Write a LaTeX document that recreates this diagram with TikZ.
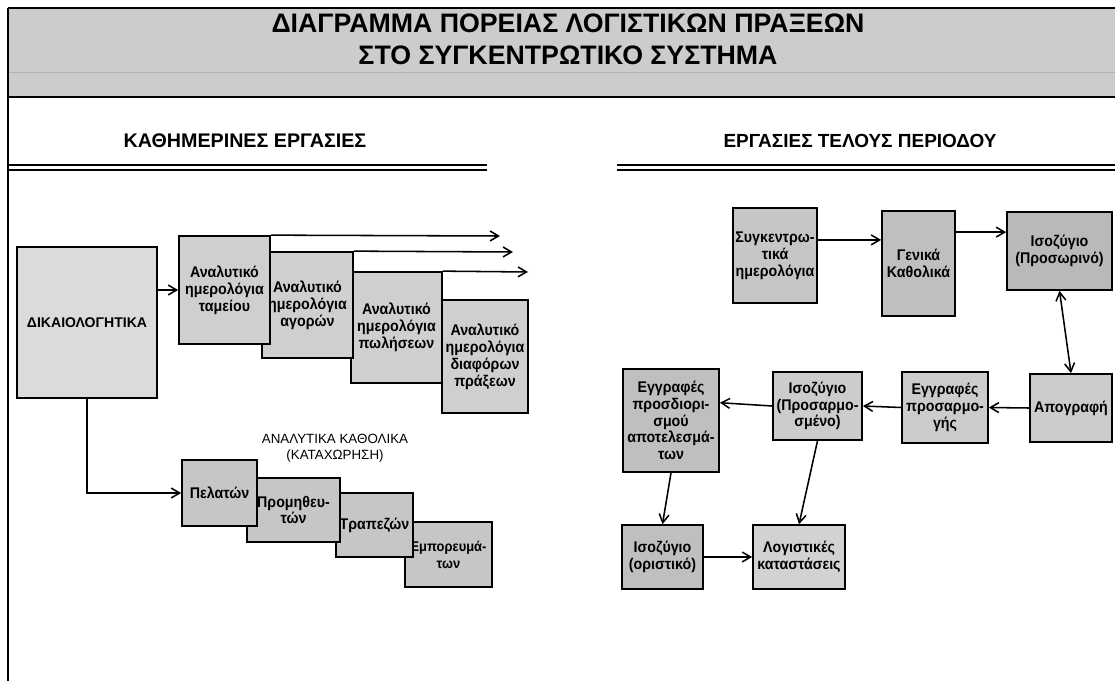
\documentclass[tikz,border=0pt]{standalone}
\usepackage{fontspec}
\setmainfont{Liberation Sans}
\newfontfamily\boxfont[FakeStretch=0.92]{Liberation Sans}
\usetikzlibrary{arrows.meta}

\begin{document}
\begin{tikzpicture}[x=0.025cm, y=-0.025cm, >={Straight Barb[length=6pt,width=7pt]}]
    \tikzstyle{box} = [rectangle, draw, line width=1.2pt, inner sep=1pt, align=center, font=\boxfont\fontsize{11}{12}\selectfont\bfseries]
    \tikzstyle{jour} = [box, fill=gray!38]
    \tikzstyle{ledg} = [box, fill=gray!45]
    \tikzstyle{fin} = [box, fill=gray!40]
    \tikzstyle{conn} = [line width=1.1pt, ->]
    \tikzstyle{head} = [font=\fontsize{14}{16}\selectfont\bfseries]
    \useasboundingbox (0,0) rectangle (1115,681);
    % title band
    \fill[gray!40] (8,8) rectangle (1115,97);
    \draw[gray!60] (8,72) -- (1115,72);
    \draw[line width=1.2pt] (8,8) -- (1115,8);
    \draw[line width=1.5pt] (8,97) -- (1115,97);
    \draw[line width=1.5pt] (8,8) -- (8,681);
    \node[font=\fontsize{19}{23}\selectfont\bfseries, align=center, inner sep=0pt] (title) at (568,39) {ΔΙΑΓΡΑΜΜΑ ΠΟΡΕΙΑΣ ΛΟΓΙΣΤΙΚΩΝ ΠΡΑΞΕΩΝ\\ΣΤΟ ΣΥΓΚΕΝΤΡΩΤΙΚΟ ΣΥΣΤΗΜΑ};
    % column headers
    \node[head] (daily) at (245,141) {ΚΑΘΗΜΕΡΙΝΕΣ ΕΡΓΑΣΙΕΣ};
    \node[head, font=\fontsize{13.5}{16}\selectfont\bfseries] (endper) at (860,141) {ΕΡΓΑΣΙΕΣ ΤΕΛΟΥΣ ΠΕΡΙΟΔΟΥ};
    \foreach \y in {165,170} {
        \draw[thick] (8,\y) -- (487,\y);
        \draw[thick] (617,\y) -- (1115,\y);
    }
    % daily work
    \node[jour, minimum width=2.15cm, minimum height=2.825cm] (dia) at (485,356.5) {Αναλυτικό\\ημερολόγια\\διαφόρων\\πράξεων};
    \node[jour, minimum width=2.275cm, minimum height=2.775cm] (pol) at (396.5,327.5) {Αναλυτικό\\ημερολόγια\\πωλήσεων};
    \node[jour, minimum width=2.275cm, minimum height=2.65cm] (ago) at (307.5,305) {Αναλυτικό\\ημερολόγια\\αγορών};
    \node[jour, minimum width=2.275cm, minimum height=2.7cm] (tam) at (224.5,290) {Αναλυτικό\\ημερολόγια\\ταμείου};
    \node[box, fill=gray!28, font=\fontsize{10}{12}\selectfont\bfseries, minimum width=3.5cm, minimum height=3.775cm] (dik) at (87,322.5) {ΔΙΚΑΙΟΛΟΓΗΤΙΚΑ};
    \coordinate (e1) at (500,236);
    \coordinate (e2) at (513,252);
    \coordinate (e3) at (528,272);
    \foreach \b/\e in {tam/e1, ago/e2, pol/e3}
        \draw[conn] (\b.north east) -- (\e);
    \draw[conn] (dik.east |- tam.west) -- (tam.west);

    \node[font=\fontsize{9.5}{11.5}\selectfont, align=center] (anal) at (335,448) {ΑΝΑΛΥΤΙΚΑ ΚΑΘΟΛΙΚΑ\\(ΚΑΤΑΧΩΡΗΣΗ)};
    \node[ledg, font=\boxfont\fontsize{10}{12}\selectfont\bfseries, minimum width=2.175cm, minimum height=1.625cm] (emp) at (448.5,554.5) {Εμπορευμά-\\των};
    \node[ledg, minimum width=1.925cm, minimum height=1.6cm] (tra) at (374.5,525) {Τραπεζών};
    \node[ledg, minimum width=2.325cm, minimum height=1.6cm] (pro) at (293.5,510) {Προμηθευ-\\τών};
    \node[ledg, minimum width=1.875cm, minimum height=1.65cm] (pel) at (219.5,493) {Πελατών};
    \draw[conn] (dik.south) |- (pel.west);

    % end of period work
    \node[fin, fill=gray!45, minimum width=2.1cm, minimum height=2.375cm] (syg) at (775,255.5) {Συγκεντρω-\\τικά\\ημερολόγια};
    \node[fin, fill=gray!50, minimum width=1.825cm, minimum height=2.625cm] (gen) at (918.5,263.5) {Γενικά\\Καθολικά};
    \node[fin, fill=gray!55, minimum width=2.625cm, minimum height=1.95cm] (isp) at (1059.5,251) {Ισοζύγιο\\(Προσωρινό)};
    \node[fin, minimum width=2.05cm, minimum height=1.7cm] (apo) at (1071,408) {Απογραφή};
    \node[fin, minimum width=2.15cm, minimum height=1.775cm] (egp) at (945,407.5) {Εγγραφές\\προσαρμο-\\γής};
    \node[fin, minimum width=2.225cm, minimum height=1.7cm] (ism) at (817.5,406) {Ισοζύγιο\\(Προσαρμο-\\σμένο)};
    \node[fin, fill=gray!50, minimum width=2.4cm, minimum height=2.575cm] (egd) at (671,420.5) {Εγγραφές\\προσδιορι-\\σμού\\αποτελεσμά-\\των};
    \node[fin, fill=gray!50, minimum width=2.025cm, minimum height=1.6cm] (iso) at (662.5,557) {Ισοζύγιο\\(οριστικό)};
    \node[fin, fill=gray!35, minimum width=2.3cm, minimum height=1.6cm] (log) at (799,557) {Λογιστικές\\καταστάσεις};

    \draw[conn] (syg.20) -- (gen.west |- syg.20);
    \draw[conn] (gen.40) -- (isp.west |- gen.40);
    \draw[line width=1.1pt, <->] (isp.south) -- (apo.north);
    \draw[conn] (apo.west) -- (egp.east);
    \draw[conn] (egp.west) -- (ism.east);
    \draw[conn] (ism.west) -- (egd.20);
    \draw[conn] (egd.south) -- (iso.north);
    \draw[conn] (ism.south) -- (log.north);
    \draw[conn] (iso.east) -- (log.west);
\end{tikzpicture}
\end{document}
